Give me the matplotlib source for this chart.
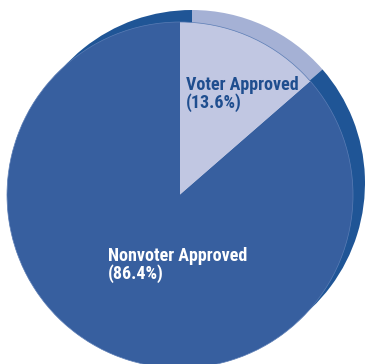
import matplotlib
matplotlib.use("Agg")
import matplotlib.pyplot as plt
from matplotlib.patches import Circle

categories = ["Voter Approved", "Nonvoter Approved"]
shares = [13.6, 86.4]

front_colors = ["#c1c7e2", "#375f9f"]
back_colors = ["#a5b1d5", "#1f5596"]
label_colors = ["#1f4e8f", "white"]

W, H = 365, 364
fig = plt.figure(figsize=(W / 100, H / 100), dpi=100)
ax = fig.add_axes([0, 0, 1, 1])

R = 173
front_c = (180, H - 195)
back_c = (192, H - 183)

# raised back disc gives the tilted, three-dimensional look
ax.pie(shares, colors=back_colors, startangle=90, counterclock=False,
       radius=R, center=back_c, wedgeprops=dict(linewidth=0))
ax.pie(shares, colors=front_colors, startangle=90, counterclock=False,
       radius=R, center=front_c, wedgeprops=dict(linewidth=0))
ax.add_patch(Circle(front_c, R, fill=False, lw=0.5, ec="#5b7db5"))

ax.set_xlim(0, W)
ax.set_ylim(0, H)
ax.set_aspect("equal")
ax.axis("off")

font = dict(family=["Roboto Condensed", "DejaVu Sans"], fontweight="bold",
            fontsize=13, ha="left", va="baseline")
label_pos = [(186, 90), (108, 261)]
for name, share, color, (x, y) in zip(categories, shares, label_colors, label_pos):
    ax.text(x, H - y, name, color=color, **font)
    ax.text(x, H - y - 18, f"({share}%)", color=color, **font)

fig.savefig("out.png", dpi=100)
